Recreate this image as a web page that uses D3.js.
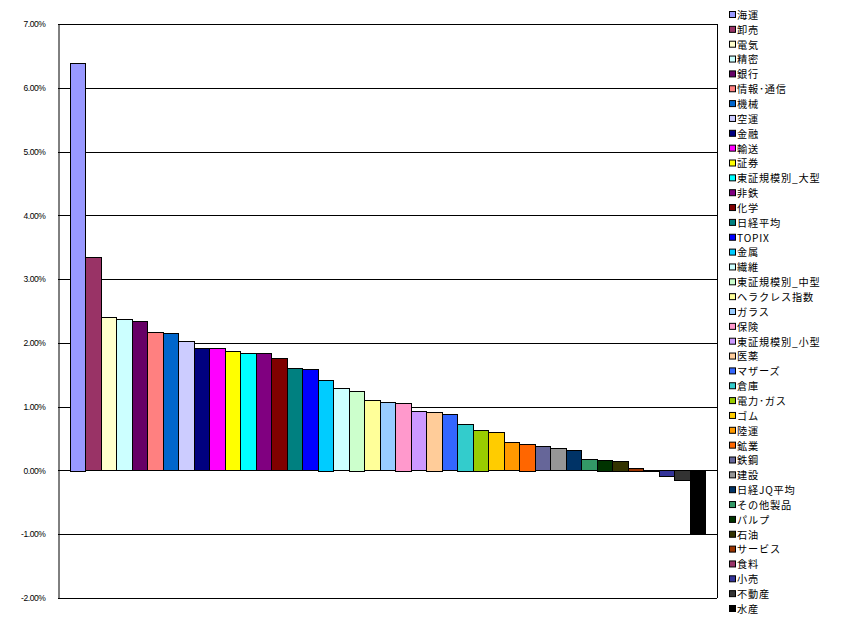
<!DOCTYPE html>
<html>
<head>
<meta charset="utf-8">
<script src="https://cdn.jsdelivr.net/npm/d3@7"></script>
<style>
  html, body { margin: 0; padding: 0; background: #fff; }
  svg { display: block; }
</style>
</head>
<body>
<svg id="chart" width="848" height="628"></svg>
<script>
// Sector returns (fraction), sorted descending
const sectors = ["海運","卸売","電気","精密","銀行","情報･通信","機械","空運","金融","輸送",
  "証券","東証規模別_大型","非鉄","化学","日経平均","TOPIX","金属","繊維","東証規模別_中型","ヘラクレス指数",
  "ガラス","保険","東証規模別_小型","医薬","マザーズ","倉庫","電力･ガス","ゴム","陸運","鉱業",
  "鉄鋼","建設","日経JQ平均","その他製品","パルプ","石油","サービス","食料","小売","不動産","水産"];

const returns = [0.0639,0.0334,0.0240,0.0237,0.0234,0.0217,0.0215,0.0203,0.0192,0.0192,
  0.0187,0.0184,0.0184,0.0176,0.0160,0.0159,0.0142,0.0129,0.0125,0.0110,
  0.0107,0.0106,0.0093,0.0092,0.0088,0.0073,0.0064,0.0060,0.0044,0.0042,
  0.0038,0.0035,0.0032,0.0018,0.0017,0.0015,0.0004,-0.0002,-0.0010,-0.0015,-0.0098];

const colors = ["#9999FF","#993366","#FFFFCC","#CCFFFF","#660066","#FF8080","#0066CC","#CCCCFF","#000080","#FF00FF",
  "#FFFF00","#00FFFF","#800080","#800000","#008080","#0000FF","#00CCFF","#CCFFFF","#CCFFCC","#FFFF99",
  "#99CCFF","#FF99CC","#CC99FF","#FFCC99","#3366FF","#33CCCC","#99CC00","#FFCC00","#FF9900","#FF6600",
  "#666699","#969696","#003366","#339966","#003300","#333300","#993300","#993366","#333399","#333333","#000000"];

const yTicks = [-0.02,-0.01,0,0.01,0.02,0.03,0.04,0.05,0.06,0.07];

const svg = d3.select("#chart");
const plot = { left: 58, right: 717, top: 24, bottom: 598 };

const y = d3.scaleLinear().domain([-0.02, 0.07]).range([plot.bottom, plot.top]);
const x = d3.scaleBand().domain(sectors).range([plot.left, plot.right])
  .paddingInner(0).paddingOuter(0.75);

const fmt = d3.formatLocale({ decimal: ".", thousands: ",", grouping: [3], currency: ["", ""], minus: "-" }).format(".2%");

// gridlines
svg.append("g").selectAll("line").data(yTicks).join("line")
  .attr("x1", plot.left).attr("x2", plot.right)
  .attr("y1", d => Math.round(y(d)) + 0.5).attr("y2", d => Math.round(y(d)) + 0.5)
  .attr("stroke", "#000").attr("stroke-width", 1);

// right border
svg.append("line")
  .attr("x1", plot.right + 0.5).attr("x2", plot.right + 0.5)
  .attr("y1", y(0.07)).attr("y2", y(-0.02))
  .attr("stroke", "#000");

// bars
svg.append("g").selectAll("rect").data(sectors).join("rect")
  .attr("x", (d) => Math.round(x(d)) + 0.5)
  .attr("width", (d) => Math.round(x(d) + x.bandwidth()) - Math.round(x(d)))
  .attr("y", (d, i) => Math.round(Math.min(y(returns[i]), y(0))) + 0.5)
  .attr("height", (d, i) => Math.max(1, Math.round(Math.abs(y(returns[i]) - y(0)))))
  .attr("fill", (d, i) => colors[i])
  .attr("stroke", "#000").attr("stroke-width", 1);

// y axis
const yAxis = d3.axisLeft(y).tickValues(yTicks).tickFormat(fmt).tickSize(0).tickPadding(13);
const ax = svg.append("g").attr("transform", `translate(${plot.left + 0.5},0)`).call(yAxis);
ax.select(".domain").attr("stroke", "#000");
ax.selectAll("text")
  .attr("font-family", "Liberation Sans, Arial, sans-serif")
  .attr("font-size", "8.5px")
  .attr("letter-spacing", "-0.4px")
  .attr("fill", "#000");

// legend
const lg = svg.append("g").attr("transform", "translate(729,0)");
const item = lg.selectAll("g").data(sectors).join("g")
  .attr("transform", (d, i) => `translate(0,${15 + i * 14.85})`);
item.append("rect")
  .attr("x", 0.5).attr("y", -3.5).attr("width", 6).attr("height", 6)
  .attr("fill", (d, i) => colors[i]).attr("stroke", "#000").attr("stroke-width", 1);
item.append("text")
  .attr("x", 8).attr("y", 0).attr("dy", "0.38em")
  .attr("font-family", "'Noto Sans CJK JP', sans-serif")
  .attr("font-size", "10.2px")
  .attr("letter-spacing", "0.8px")
  .attr("fill", "#000")
  .text(d => d);
</script>
</body>
</html>
